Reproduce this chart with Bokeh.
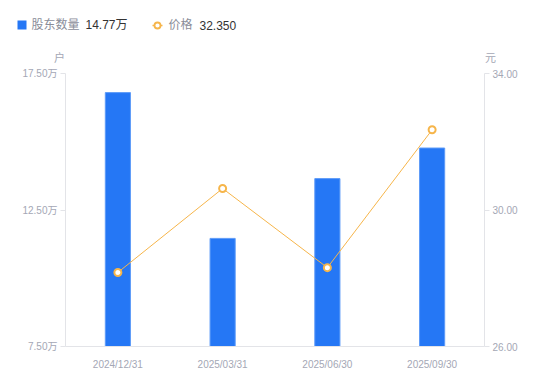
from bokeh.plotting import figure
from bokeh.layouts import column
from bokeh.models import (ColumnDataSource, Range1d, LinearAxis, FixedTicker,
                          CustomJSTickFormatter, NumeralTickFormatter, FactorRange)
from bokeh.core.properties import value
from bokeh.embed import file_html
from bokeh.resources import INLINE

dates = ["2024/12/31", "2025/03/31", "2025/06/30", "2025/09/30"]
holders = [16.80, 11.46, 13.65, 14.77]   # 万户
prices = [28.17, 30.63, 28.31, 32.35]    # 元
left_ticks = [7.5, 12.5, 17.5]
right_ticks = [26, 30, 34]
legend_names = ["股东数量", "价格"]
legend_values = ["14.77万", "32.350"]
units = ["户", "元"]

BLUE = "#2577F5"
ORANGE = "#F6B54A"
AXIS = "#E3E4E8"
TICKTXT = "#A4A7B5"
NAMETXT = "#8A8D99"
VALTXT = "#333333"
FONT = "Liberation Sans, Noto Sans CJK SC"

W, H = 550, 381
HEAD = 66
BL, BR, BT, BB = 65, 66, 7, 35

# ---------------- header (legend + unit labels) ----------------
h = figure(width=W, height=HEAD, x_range=Range1d(0, W), y_range=Range1d(HEAD, 0),
           output_backend="svg", toolbar_location=None,
           x_axis_location=None, y_axis_location=None,
           min_border_left=0, min_border_right=0, min_border_top=0, min_border_bottom=0)
h.frame_align = False
h.outline_line_color = None
h.xgrid.visible = False
h.ygrid.visible = False

LY = 24.5
h.rect(x=[21.5], y=[LY], width=9, height=9, fill_color=BLUE, line_color=None)
h.segment(x0=[152], y0=[LY + 0.5], x1=[162], y1=[LY + 0.5], line_color=ORANGE, line_width=1.5)
h.scatter(x=[157], y=[LY + 0.5], size=6, fill_color="white", line_color=ORANGE, line_width=1.8)
h.text(x=[31, 168], y=[LY, LY], text=legend_names, text_color=NAMETXT,
       text_font=value(FONT), text_font_size="12px", text_baseline="middle")
h.text(x=[85, 199], y=[LY, LY], text=legend_values, text_color=VALTXT,
       text_font=value(FONT), text_font_size="12px", text_baseline="middle")
h.text(x=[59, 490], y=[57, 57], text=units, text_color=TICKTXT,
       text_font=value(FONT), text_font_size="11px", text_baseline="middle",
       text_align="center")

# ---------------- main chart ----------------
src = ColumnDataSource(dict(date=dates, holders=holders, price=prices))

p = figure(x_range=FactorRange(*dates), y_range=Range1d(left_ticks[0], left_ticks[-1]),
           width=W, height=H - HEAD, output_backend="svg", toolbar_location=None,
           min_border_left=BL, min_border_right=BR, min_border_top=BT, min_border_bottom=BB)
p.frame_align = False
p.extra_y_ranges = {"price": Range1d(right_ticks[0], right_ticks[-1])}
p.outline_line_color = None
p.xgrid.visible = False
p.ygrid.visible = False

p.vbar(x="date", top="holders", bottom=left_ticks[0], width=0.24, source=src,
       fill_color=BLUE, line_color="#5E9BF8", line_width=1)
p.line(x="date", y="price", y_range_name="price", source=src, line_color=ORANGE, line_width=1)
p.scatter(x="date", y="price", y_range_name="price", source=src, size=7,
          fill_color="white", line_color=ORANGE, line_width=2)

def style(ax):
    ax.axis_line_color = AXIS
    ax.major_tick_line_color = AXIS
    ax.minor_tick_line_color = None
    ax.major_tick_out = 5
    ax.major_tick_in = 0
    ax.major_label_text_color = TICKTXT
    ax.major_label_text_font_size = "10px"
    ax.major_label_text_font = FONT
    ax.major_label_standoff = 3

p.yaxis.ticker = FixedTicker(ticks=left_ticks)
p.yaxis.formatter = CustomJSTickFormatter(code="return tick.toFixed(2) + '万'")
style(p.yaxis[0])

rax = LinearAxis(y_range_name="price", ticker=FixedTicker(ticks=right_ticks),
                 formatter=NumeralTickFormatter(format="0.00"))
style(rax)
p.add_layout(rax, "right")

style(p.xaxis[0])
p.xaxis.major_tick_line_color = None
p.xaxis.major_label_standoff = 7

layout = column(h, p, spacing=0)
open("out.html", "w").write(file_html(layout, INLINE))
